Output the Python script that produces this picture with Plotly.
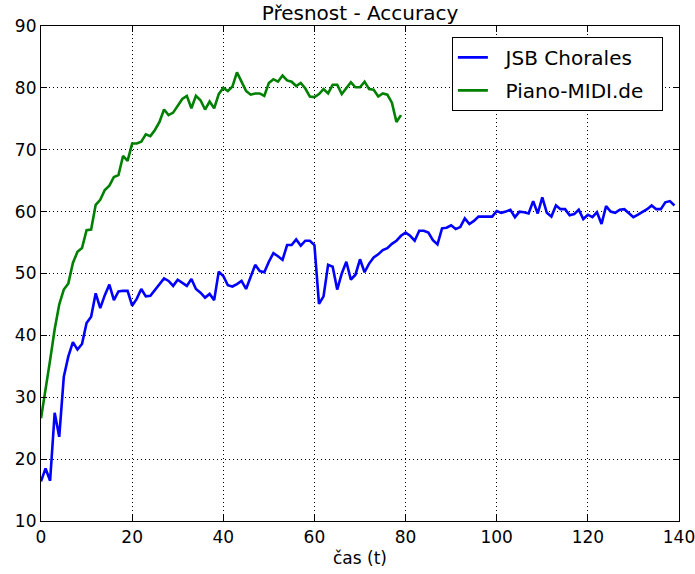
import plotly.graph_objects as go

jsb = [16.4, 18.5, 16.5, 27.5, 23.6, 33.3, 36.6, 38.9, 37.7, 38.6,
       42.0, 43.0, 46.8, 44.4, 46.5, 48.2, 45.7, 47.1, 47.2, 47.2,
       44.8, 45.9, 47.5, 46.3, 46.4, 47.4, 48.4, 49.2, 48.8, 48.0,
       49.0, 48.5, 48.0, 49.1, 47.5, 46.9, 46.1, 46.7, 45.7, 50.3,
       49.6, 48.1, 47.9, 48.3, 48.8, 47.5, 49.6, 51.4, 50.4, 50.2,
       51.9, 53.3, 52.8, 52.2, 54.6, 54.6, 55.5, 54.5, 55.3, 55.3,
       54.6, 45.1, 46.3, 51.4, 51.1, 47.4, 50.0, 51.9, 49.0, 49.8,
       52.3, 50.2, 51.6, 52.6, 53.1, 53.8, 54.1, 54.8, 55.3, 56.1,
       56.6, 56.1, 55.3, 56.9, 56.9, 56.6, 55.4, 54.7, 57.3, 57.4,
       57.8, 57.2, 57.5, 58.9, 58.0, 58.5, 59.2, 59.2, 59.2, 59.2,
       60.1, 59.8, 60.0, 60.3, 59.1, 60.0, 59.9, 59.7, 61.7, 59.7,
       62.3, 59.8, 59.2, 61.0, 60.4, 60.4, 59.4, 59.6, 60.3, 58.8,
       59.5, 59.1, 59.9, 58.0, 60.9, 60.0, 59.8, 60.3, 60.4, 59.8,
       59.1, 59.5, 59.9, 60.4, 61.0, 60.4, 60.4, 61.5, 61.7, 61.0]

piano = [26.6, 31.7, 36.0, 41.0, 45.0, 47.4, 48.4, 51.7, 53.5, 54.1,
         57.0, 57.1, 61.1, 61.9, 63.5, 64.2, 65.6, 65.9, 69.0, 68.2,
         71.0, 71.0, 71.3, 72.5, 72.2, 73.2, 74.5, 76.5, 75.6, 76.0,
         77.2, 78.2, 78.7, 76.7, 78.7, 78.0, 76.5, 77.8, 76.7, 79.0,
         80.0, 79.5, 80.2, 82.5, 81.0, 79.5, 78.9, 79.1, 79.1, 78.7,
         80.8, 81.4, 81.0, 82.0, 81.2, 81.0, 80.3, 80.8, 79.9, 78.6,
         78.5, 79.0, 79.8, 79.1, 80.5, 80.5, 79.0, 79.9, 80.9, 80.1,
         80.1, 81.0, 79.8, 79.7, 78.6, 79.1, 78.9, 77.6, 74.5, 75.6]

series_names = ["JSB Chorales", "Piano-MIDI.de"]

x_jsb = list(range(len(jsb)))
x_piano = list(range(len(piano)))

font = "DejaVu Sans"
pad = "\u00a0\u00a0"
tail = "\u00a0\u00a0"

fig = go.Figure()
fig.add_trace(go.Scatter(x=x_jsb, y=jsb, mode="lines",
                         name=pad + series_names[0] + tail,
                         legendgroup="a",
                         line=dict(color="#0000ff", width=2.6)))
fig.add_trace(go.Scatter(x=x_piano, y=piano, mode="lines",
                         name=pad + series_names[1] + tail,
                         legendgroup="b",
                         line=dict(color="#008000", width=2.6)))

axis_common = dict(
    showline=True, linecolor="black", linewidth=1.2, mirror="allticks",
    ticks="inside", ticklen=6, tickcolor="black", tickwidth=1,
    showgrid=True, gridcolor="black", griddash="1px,3px", gridwidth=1,
    zeroline=False, automargin=False, ticklabeloverflow="allow",
    tickfont=dict(family=font, size=17, color="black"),
)

fig.update_layout(
    width=695, height=574,
    margin=dict(l=41, r=16, t=26, b=53),
    paper_bgcolor="white", plot_bgcolor="white",
    title=dict(text="Přesnost - Accuracy", x=0.518, xanchor="center",
               y=0.977, yanchor="middle",
               font=dict(family=font, size=20, color="black")),
    xaxis=dict(range=[0, 140], dtick=20, tick0=0,
               title=dict(text="čas (t)", standoff=6,
                          font=dict(family=font, size=17, color="black")),
               **axis_common),
    yaxis=dict(range=[10, 90], dtick=10, tick0=10, **axis_common),
    legend=dict(x=0.644, y=0.978, xanchor="left", yanchor="top",
                bordercolor="black", borderwidth=1, bgcolor="white",
                font=dict(family=font, size=20, color="black"),
                tracegroupgap=4),
    showlegend=True,
)

fig.write_html("out.html")
